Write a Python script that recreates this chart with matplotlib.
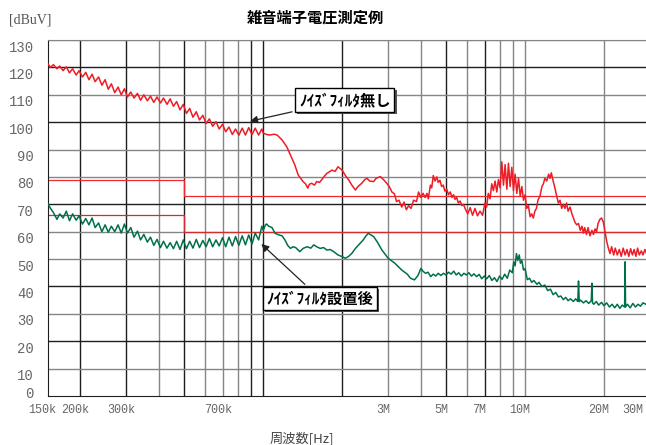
# -*- coding: utf-8 -*-
"""雑音端子電圧測定例 — ノイズフィルタ有無の比較"""
import matplotlib
matplotlib.use('Agg')
import matplotlib.pyplot as plt
import matplotlib.transforms as mtransforms
import matplotlib.patheffects as pe

plt.rcParams['font.family'] = ['Noto Sans CJK JP', 'DejaVu Sans']

# ── データ (周波数 MHz / dBuV、画像から読み取り) ──
# 150k-1M の共通周波数点
low_freq = [0.150, 0.154, 0.158, 0.163, 0.167, 0.172, 0.177, 0.182, 0.187, 0.193,
            0.198, 0.204, 0.210, 0.216, 0.222, 0.228, 0.235, 0.242, 0.249, 0.256,
            0.263, 0.271, 0.279, 0.287, 0.295, 0.303, 0.312, 0.321, 0.331, 0.340,
            0.350, 0.361, 0.371, 0.382, 0.393, 0.405, 0.416, 0.429, 0.441, 0.454,
            0.467, 0.481, 0.495, 0.509, 0.524, 0.539, 0.555, 0.571, 0.588, 0.605,
            0.623, 0.641, 0.660, 0.679, 0.699, 0.719, 0.740, 0.762, 0.784, 0.807,
            0.831, 0.855, 0.880, 0.906, 0.932, 0.960, 0.988, 1.000]

# フィルタ無し
red_low = [121.5, 120.0, 121.0, 119.5, 120.5, 118.8, 120.2, 118.0, 119.5, 117.2,
           118.8, 116.5, 118.2, 115.5, 117.5, 114.8, 116.5, 113.5, 115.5, 112.0,
           114.0, 110.8, 112.8, 110.0, 112.2, 109.2, 111.0, 108.8, 110.5, 108.0,
           110.0, 107.8, 109.5, 107.2, 109.2, 107.0, 108.8, 106.5, 108.5, 105.8,
           107.5, 104.5, 106.5, 103.2, 105.0, 101.8, 103.8, 100.8, 102.5, 99.5,
           101.2, 98.5, 100.2, 97.5, 99.2, 96.5, 98.2, 95.5, 97.5, 95.2,
           97.8, 95.3, 98.0, 95.5, 97.8, 95.3, 97.5, 96.0]
red_high_freq = [1.03, 1.06, 1.10, 1.13, 1.18, 1.23, 1.27, 1.32, 1.36, 1.42,
                 1.45, 1.48, 1.50, 1.53, 1.57, 1.60, 1.64, 1.67, 1.72, 1.75,
                 1.80, 1.83, 1.88, 1.93, 1.97, 2.00, 2.06, 2.12, 2.18, 2.25,
                 2.30, 2.38, 2.44, 2.49, 2.55, 2.64, 2.70, 2.80, 2.88, 2.96,
                 3.03, 3.10, 3.17, 3.23, 3.30, 3.38, 3.45, 3.52, 3.59, 3.67,
                 3.75, 3.85, 3.92, 4.00, 4.08, 4.15, 4.22, 4.27, 4.35, 4.40,
                 4.46, 4.53, 4.60, 4.66, 4.73, 4.80, 4.87, 4.94, 5.02, 5.10,
                 5.18, 5.26, 5.33, 5.40, 5.48, 5.56, 5.65, 5.74, 5.82, 5.90,
                 6.04, 6.17, 6.30, 6.44, 6.58, 6.73, 6.88, 7.03, 7.13, 7.24,
                 7.35, 7.46, 7.57, 7.68, 7.80, 7.91, 8.03, 8.15, 8.27, 8.39,
                 8.52, 8.64, 8.77, 8.90, 9.03, 9.16, 9.30, 9.44, 9.58, 9.72,
                 9.86, 10.0, 10.15, 10.3, 10.45, 10.6, 10.75, 10.9, 11.05, 11.2,
                 11.4, 11.6, 11.75, 11.9, 12.1, 12.3, 12.45, 12.6, 12.8, 13.0,
                 13.2, 13.4, 13.6, 13.8, 14.0, 14.2, 14.4, 14.6, 14.85, 15.1,
                 15.3, 15.5, 15.75, 16.0, 16.25, 16.5, 16.7, 16.9, 17.15, 17.4,
                 17.7, 18.0, 18.25, 18.5, 18.75, 19.0, 19.3, 19.6, 19.9, 20.2,
                 20.5, 20.8, 21.1, 21.4, 21.8, 22.1, 22.5, 22.9, 23.3, 23.7,
                 24.1, 24.5, 24.9, 25.3, 25.7, 26.1, 26.5, 26.9, 27.3, 27.8,
                 28.2, 28.7, 29.1, 29.6, 30.0]
red_high = [95.5, 95.3, 95.6, 95.3, 93.5, 91.0, 88.0, 84.4, 80.7, 78.3,
            77.5, 75.9, 77.3, 77.7, 77.0, 78.3, 78.0, 78.9, 80.5, 81.3,
            82.0, 82.5, 82.0, 83.7, 83.0, 82.5, 80.5, 78.9, 77.0, 75.2,
            76.5, 77.7, 79.0, 79.5, 78.5, 78.3, 79.5, 80.1, 79.0, 77.7,
            76.5, 74.5, 73.8, 71.0, 71.5, 69.0, 70.8, 68.0, 69.5, 68.5,
            71.5, 71.0, 74.5, 72.5, 74.0, 72.5, 74.0, 72.0, 77.0, 76.0,
            80.5, 78.5, 80.0, 78.0, 78.8, 76.5, 77.0, 74.8, 75.5, 73.5,
            74.5, 72.5, 73.5, 71.8, 72.5, 70.5, 71.2, 69.5, 70.0, 68.5,
            66.5, 68.8, 66.0, 68.5, 65.8, 67.5, 66.0, 70.5, 69.0, 74.0,
            72.0, 77.5, 75.0, 78.5, 74.5, 79.0, 76.0, 85.5, 77.0, 84.5,
            75.5, 85.0, 76.5, 83.5, 75.0, 81.0, 74.0, 79.5, 73.0, 76.5,
            71.5, 73.5, 68.5, 69.5, 65.5, 66.5, 65.0, 67.5, 68.5, 71.5,
            73.0, 76.5, 77.5, 79.5, 78.5, 81.0, 79.5, 81.5, 78.5, 76.0,
            73.0, 70.5, 71.5, 68.5, 70.0, 68.5, 70.5, 67.5, 69.0, 66.5,
            65.0, 63.5, 62.5, 63.0, 60.5, 62.0, 59.5, 61.5, 59.0, 61.5,
            58.5, 60.5, 59.0, 61.0, 60.0, 63.0, 64.5, 65.0, 63.5, 60.0,
            56.5, 54.0, 52.0, 54.5, 51.5, 54.0, 51.5, 53.5, 51.0, 54.0,
            51.5, 53.5, 51.0, 53.8, 51.5, 53.5, 51.0, 54.0, 51.5, 53.0,
            51.5, 53.5, 52.0, 54.5, 53.5]

# フィルタ設置後
green_low = [70.5, 68.5, 67.0, 64.5, 66.5, 65.0, 67.5, 64.0, 66.5, 64.2,
             65.8, 62.8, 64.8, 62.5, 65.0, 61.5, 63.2, 60.0, 62.5, 59.8,
             62.0, 60.0, 62.5, 59.5, 62.8, 59.5, 61.5, 58.0, 60.2, 57.0,
             59.0, 56.2, 58.0, 55.0, 57.2, 54.2, 56.5, 54.0, 56.0, 53.8,
             56.5, 53.5, 57.0, 53.8, 56.5, 54.0, 57.2, 54.2, 56.8, 54.5,
             57.5, 54.5, 57.0, 54.8, 57.8, 54.5, 58.0, 54.8, 58.2, 55.0,
             58.5, 55.2, 58.8, 55.5, 59.5, 57.0, 62.0, 60.5]
green_high_freq = [1.02, 1.03, 1.05, 1.08, 1.11, 1.15, 1.18, 1.21, 1.24, 1.27,
                   1.30, 1.33, 1.38, 1.42, 1.47, 1.52, 1.56, 1.60, 1.65, 1.70,
                   1.75, 1.80, 1.86, 1.93, 2.00, 2.06, 2.12, 2.18, 2.25, 2.33,
                   2.41, 2.47, 2.52, 2.58, 2.64, 2.72, 2.84, 3.00, 3.18, 3.38,
                   3.55, 3.65, 3.78, 3.90, 4.00, 4.08, 4.17, 4.26, 4.36, 4.46,
                   4.56, 4.66, 4.77, 4.88, 4.99, 5.10, 5.22, 5.34, 5.46, 5.58,
                   5.71, 5.84, 5.97, 6.10, 6.24, 6.38, 6.53, 6.68, 6.83, 6.98,
                   7.14, 7.30, 7.47, 7.64, 7.81, 7.99, 8.17, 8.36, 8.55, 8.74,
                   8.94, 9.05, 9.16, 9.27, 9.38, 9.50, 9.60, 9.72, 9.86, 10.0,
                   10.2, 10.4, 10.6, 10.8, 11.1, 11.3, 11.6, 11.9, 12.2, 12.5,
                   12.8, 13.1, 13.4, 13.7, 14.0, 14.3, 14.6, 14.9, 15.3, 15.6,
                   15.9, 16.0, 16.1, 16.3, 16.7, 17.1, 17.5, 17.9, 18.0, 18.1,
                   18.3, 18.7, 19.1, 19.6, 20.0, 20.5, 21.0, 21.5, 22.0, 22.5,
                   23.0, 23.5, 24.0, 24.1, 24.2, 24.6, 25.2, 25.8, 26.4, 27.0,
                   27.6, 28.2, 28.9, 29.5, 30.0]
green_high = [62.5, 62.8, 62.0, 61.5, 59.4, 58.8, 58.5, 57.0, 55.0, 53.9,
              54.5, 54.2, 52.7, 53.9, 54.5, 54.0, 55.2, 54.5, 53.9, 54.2,
              53.3, 53.5, 52.7, 51.5, 50.9, 50.3, 51.0, 52.1, 53.9, 55.5,
              57.0, 58.5, 59.4, 58.8, 58.2, 56.4, 53.3, 50.3, 48.5, 46.0,
              44.5, 43.0, 42.4, 44.0, 46.6, 45.5, 44.8, 45.2, 43.6, 44.5,
              43.8, 44.8, 44.0, 44.8, 44.2, 45.2, 44.5, 45.6, 44.2, 45.0,
              43.8, 44.8, 44.2, 45.0, 43.8, 44.6, 43.6, 44.4, 42.8, 43.8,
              42.8, 44.0, 42.2, 43.2, 41.8, 43.8, 42.6, 44.5, 43.0, 46.0,
              45.0, 49.0, 47.5, 52.0, 49.5, 51.5, 48.5, 49.5, 46.0, 46.5,
              42.5, 43.0, 41.5, 42.2, 40.8, 41.5, 40.0, 40.5, 38.5, 39.0,
              37.0, 37.8, 36.2, 36.5, 35.2, 36.0, 34.8, 35.5, 34.5, 35.5,
              34.5, 42.0, 34.5, 35.0, 34.0, 34.8, 33.8, 34.8, 41.2, 34.0,
              33.5, 34.5, 33.2, 34.2, 33.0, 34.0, 32.5, 33.5, 32.2, 33.5,
              32.0, 33.2, 32.5, 49.0, 32.5, 33.5, 32.2, 33.8, 32.5, 33.5,
              32.8, 34.0, 33.5, 34.5, 34.0]

# 規格値 (QP / AV)
limit_freq = [0.15, 0.5, 0.5, 30.0]
qp_limit = [79, 79, 73, 73]
av_limit = [66, 66, 60, 60]

# 軸目盛
x_ticks = [0.15, 0.2, 0.3, 0.7, 3, 5, 7, 10, 20, 30]
x_labels = ['150k', '200k', '300k', '700k', '3M', '5M', '7M', '10M', '20M', '30M']
y_ticks = list(range(0, 131, 10))
grid_freq = [0.2, 0.3, 0.4, 0.5, 0.6, 0.7, 0.8, 0.9, 1, 2, 3, 4, 5, 6, 7, 8, 9, 10, 20]
dark_freq = [0.2, 0.3, 0.5, 0.9, 1, 2, 5, 7]
dark_db = [120, 100, 70, 40, 20]

red_freq = low_freq + red_high_freq
red_db = red_low + red_high
green_freq = low_freq + green_high_freq
green_db = green_low + green_high

fig = plt.figure(figsize=(6.46, 4.45), dpi=100)
ax = fig.add_axes([47.5 / 646, 49 / 445, 602.5 / 646, 356 / 445])

ax.set_xscale('log')
ax.set_xlim(0.15, 30)
ax.set_ylim(0, 130)

# ── グリッド ──
for f in grid_freq:
    c = '#1e1e1e' if f in dark_freq else '#858585'
    ax.axvline(f, color=c, lw=1.0, zorder=1)
for v in y_ticks[1:]:
    c = '#1e1e1e' if v in dark_db else '#858585'
    ax.axhline(v, color=c, lw=1.0, zorder=1)

ax.spines['right'].set_visible(False)
ax.spines['top'].set_color('#858585')
ax.spines['left'].set_color('#1e1e1e')
ax.spines['bottom'].set_color('#1e1e1e')

# ── 規格線 ──
ax.plot(limit_freq, qp_limit, color='#ee2a2f', lw=0.9, zorder=2)
ax.plot(limit_freq, av_limit, color='#d12c30', lw=0.9, zorder=2)

# ── 測定波形 ──
ax.plot(red_freq, red_db, color='#ee1c25', lw=1.1, zorder=3)
ax.plot(green_freq, green_db, color='#00704a', lw=1.1, zorder=3)

# ── 目盛ラベル ──
ax.set_xticks(x_ticks)
ax.set_xticklabels(x_labels)
ax.xaxis.set_minor_locator(plt.NullLocator())
ax.set_yticks(y_ticks)
ax.set_yticklabels([str(v) for v in y_ticks])
ax.tick_params(axis='both', length=0)
ax.tick_params(axis='x', pad=6, labelsize=8.5, labelcolor='#666666')
ax.tick_params(axis='y', pad=10, labelsize=10, labelcolor='#666666')
for lab in ax.get_xticklabels() + ax.get_yticklabels():
    lab.set_fontfamily('Liberation Mono')

for lab in ax.get_xticklabels():
    dx = -17 if lab.get_text() == '30M' else -5
    lab.set_transform(lab.get_transform() +
                      mtransforms.ScaledTranslation(dx / 100, 0, fig.dpi_scale_trans))
for lab in ax.get_yticklabels():
    dy = 4 if lab.get_text() == '0' else -6
    lab.set_transform(lab.get_transform() +
                      mtransforms.ScaledTranslation(0, dy / 100, fig.dpi_scale_trans))

# ── 注記 ──
box = dict(boxstyle='square,pad=0.25', fc='white', ec='black', lw=1.0)
arrow = dict(arrowstyle='-|>', color='#222222', lw=0.9, mutation_scale=11)
t1 = ax.annotate('ﾉｲｽﾞﾌｨﾙﾀ無し', xy=(0.869, 100.1), xytext=(2.05, 108.1),
                 ha='center', va='center', fontsize=11, fontweight='bold',
                 bbox=box, arrowprops=arrow, zorder=5)
t2 = ax.annotate('ﾉｲｽﾞﾌｨﾙﾀ設置後', xy=(0.966, 56.2), xytext=(1.65, 35.6),
                 ha='center', va='center', fontsize=11, fontweight='bold',
                 bbox=box, arrowprops=arrow, zorder=5)
for t in (t1, t2):
    t.get_bbox_patch().set_path_effects(
        [pe.withSimplePatchShadow(offset=(1.5, -1.5), shadow_rgbFace='#555555', alpha=1.0)])

# ── タイトル・軸名 ──
fig.text(315 / 646, 1 - 18 / 445, '雑音端子電圧測定例', ha='center', va='center',
         fontsize=11, fontweight='bold')
fig.text(9 / 646, 1 - 20 / 445, '[dBuV]', ha='left', va='center',
         fontsize=10, color='#555555', family='Liberation Serif')
fig.text(302 / 646, 1 - 438 / 445, '周波数[Hz]', ha='center', va='center',
         fontsize=9.5, color='#444444')

fig.savefig('out.png', dpi=100)
